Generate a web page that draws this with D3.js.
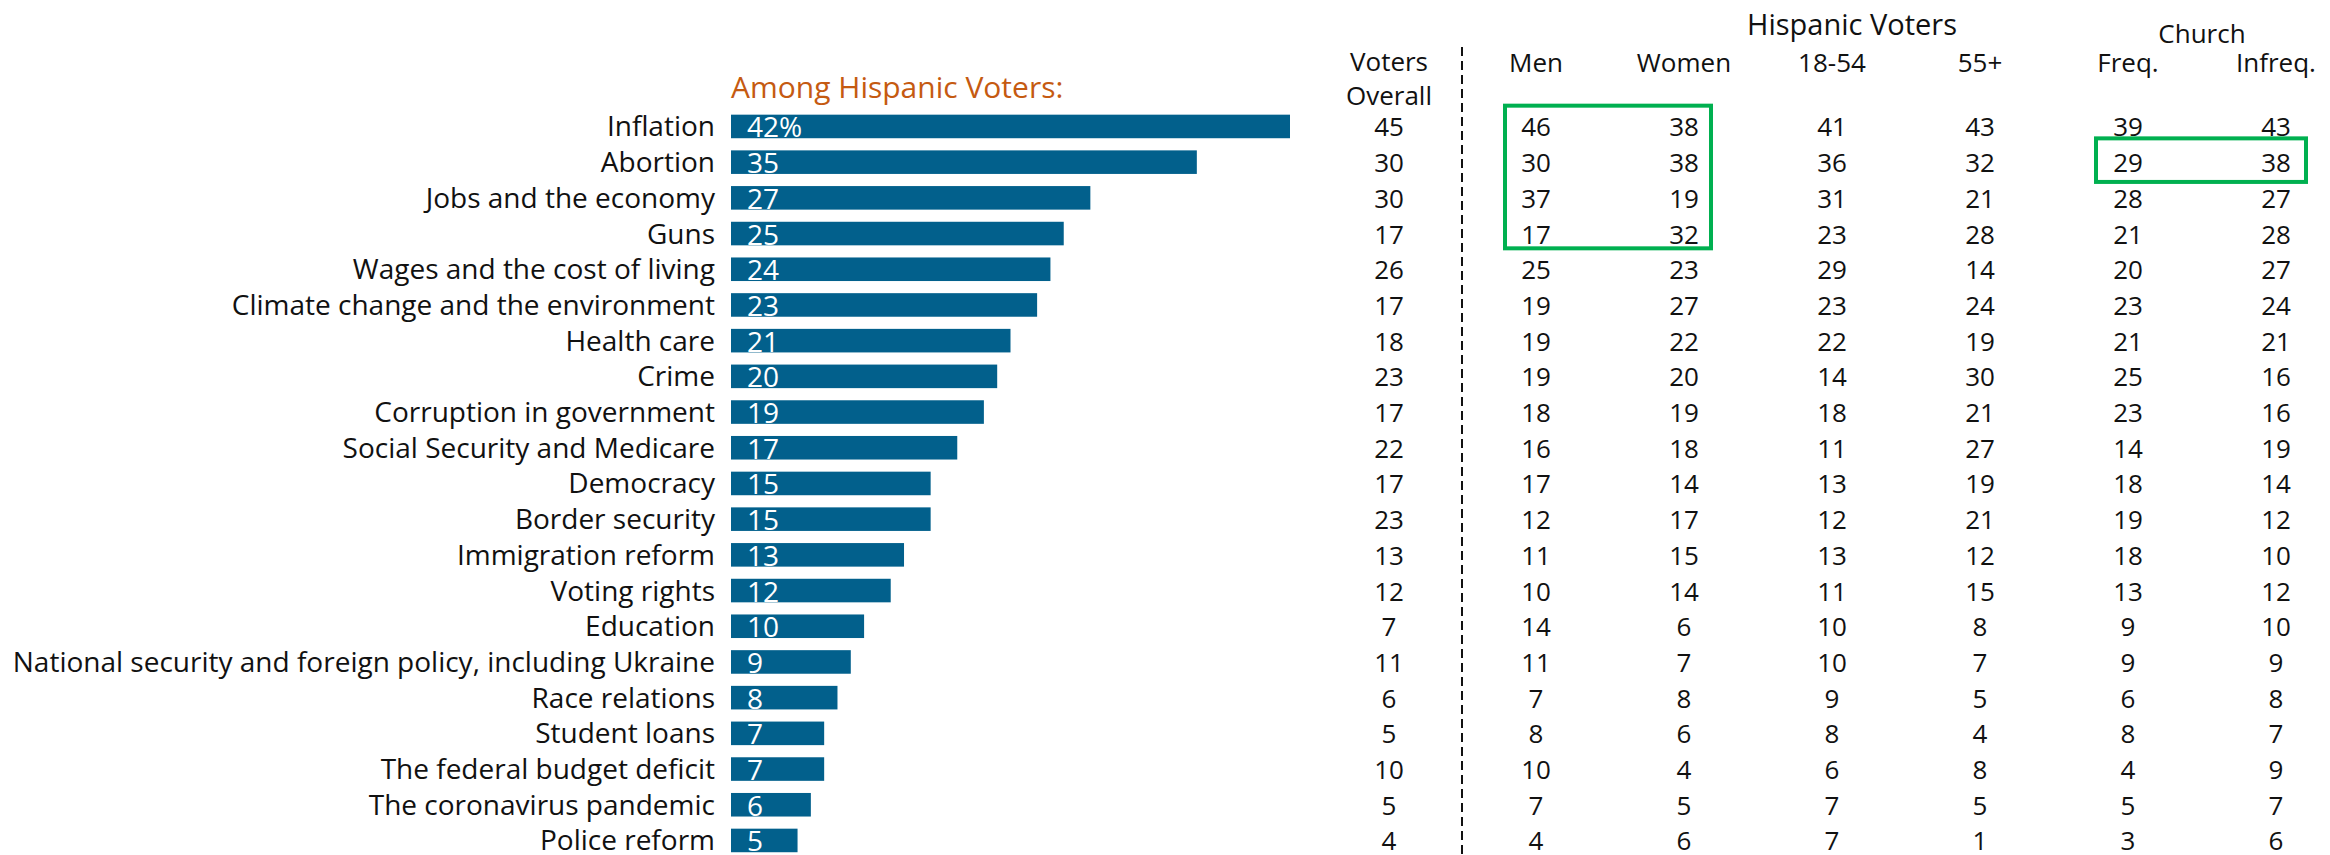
<!DOCTYPE html>
<html>
<head>
<meta charset="utf-8">
<script src="https://cdn.jsdelivr.net/npm/d3@7"></script>
<style>
  body { margin: 0; background: #fff; }
  text { font-family: "Open Sans", "Noto Sans", sans-serif; }
</style>
</head>
<body>
<div id="chart"></div>
<script>
// topics, top to bottom
const topics = [
  "Inflation", "Abortion", "Jobs and the economy", "Guns",
  "Wages and the cost of living", "Climate change and the environment",
  "Health care", "Crime", "Corruption in government",
  "Social Security and Medicare", "Democracy", "Border security",
  "Immigration reform", "Voting rights", "Education",
  "National security and foreign policy, including Ukraine",
  "Race relations", "Student loans", "The federal budget deficit",
  "The coronavirus pandemic", "Police reform"
]
const hispanicAll = [42, 35, 27, 25, 24, 23, 21, 20, 19, 17, 15, 15, 13, 12, 10, 9, 8, 7, 7, 6, 5]
const votersOverall = [45, 30, 30, 17, 26, 17, 18, 23, 17, 22, 17, 23, 13, 12, 7, 11, 6, 5, 10, 5, 4]
const men = [46, 30, 37, 17, 25, 19, 19, 19, 18, 16, 17, 12, 11, 10, 14, 11, 7, 8, 10, 7, 4]
const women = [38, 38, 19, 32, 23, 27, 22, 20, 19, 18, 14, 17, 15, 14, 6, 7, 8, 6, 4, 5, 6]
const age1854 = [41, 36, 31, 23, 29, 23, 22, 14, 18, 11, 13, 12, 13, 11, 10, 10, 9, 8, 6, 7, 7]
const age55 = [43, 32, 21, 28, 14, 24, 19, 30, 21, 27, 19, 21, 12, 15, 8, 7, 5, 4, 8, 5, 1]
const churchFreq = [39, 29, 28, 21, 20, 23, 21, 25, 23, 14, 18, 19, 18, 13, 9, 9, 6, 8, 4, 5, 3]
const churchInfreq = [43, 38, 27, 28, 27, 24, 21, 16, 16, 19, 14, 12, 10, 12, 10, 9, 8, 7, 9, 7, 6]

const colLabels = ["Men", "Women", "18-54", "55+", "Freq.", "Infreq."]
const colSeries = [men, women, age1854, age55, churchFreq, churchInfreq]

const width = 2330
const height = 855

const svg = d3.select("#chart").append("svg")
  .attr("width", width)
  .attr("height", height)

// Scales
const yScale = d3.scaleBand()
  .domain(topics)
  .range([108.6, 858.3])
  .paddingInner(0.34)
  .paddingOuter(0.17)

const xScale = d3.scaleLinear()
  .domain([0, 42])
  .range([731, 1290])

const colScale = d3.scalePoint()
  .domain(colLabels)
  .range([1536, 2276])

const overallX = 1389
const yMid = d => yScale(d) + yScale.bandwidth() / 2

// Title
svg.append("text")
  .attr("x", xScale(0))
  .attr("y", 86)
  .attr("dominant-baseline", "central")
  .attr("fill", "#C55A11")
  .style("font-size", "30px")
  .text("Among Hispanic Voters:")

// Topic labels
svg.append("g").selectAll("text")
  .data(topics)
  .join("text")
  .attr("x", xScale(0) - 16)
  .attr("y", d => yMid(d) - 1)
  .attr("text-anchor", "end")
  .attr("dominant-baseline", "central")
  .attr("fill", "#111")
  .style("font-size", "28px")
  .text(d => d)

// Bars
svg.append("g").selectAll("rect")
  .data(topics)
  .join("rect")
  .attr("x", xScale(0))
  .attr("y", d => yScale(d))
  .attr("width", (d, i) => xScale(hispanicAll[i]) - xScale(0))
  .attr("height", yScale.bandwidth())
  .attr("fill", "#02608C")

// Bar values
svg.append("g").selectAll("text")
  .data(topics)
  .join("text")
  .attr("x", xScale(0) + 16)
  .attr("y", d => yMid(d))
  .attr("dominant-baseline", "central")
  .attr("fill", "#fff")
  .style("font-size", "28px")
  .text((d, i) => i === 0 ? hispanicAll[i] + "%" : hispanicAll[i])

// Table headers
const headerStyle = sel => sel
  .attr("text-anchor", "middle")
  .attr("dominant-baseline", "central")
  .attr("fill", "#111")
  .style("font-size", "26px")

svg.append("text").call(headerStyle)
  .attr("x", overallX).attr("y", 61).text("Voters")
svg.append("text").call(headerStyle)
  .attr("x", overallX).attr("y", 95).text("Overall")

svg.append("g").selectAll("text")
  .data(colLabels)
  .join("text")
  .call(headerStyle)
  .attr("x", d => colScale(d))
  .attr("y", 62)
  .text(d => d)

svg.append("text").call(headerStyle)
  .attr("x", (colScale("Men") + colScale("55+")) / 2 + 94)
  .attr("y", 23)
  .style("font-size", "29px")
  .text("Hispanic Voters")

svg.append("text").call(headerStyle)
  .attr("x", (colScale("Freq.") + colScale("Infreq.")) / 2)
  .attr("y", 33)
  .text("Church")

// Dashed divider
svg.append("line")
  .attr("x1", 1462).attr("x2", 1462)
  .attr("y1", 47).attr("y2", height)
  .attr("stroke", "#111")
  .attr("stroke-width", 2)
  .attr("stroke-dasharray", "9,5")

// Table values
const valueCell = (g, values, x) => g.selectAll("text")
  .data(topics)
  .join("text")
  .call(headerStyle)
  .attr("x", x)
  .attr("y", d => yMid(d))
  .text((d, i) => values[i])

svg.append("g").call(valueCell, votersOverall, overallX)
colLabels.forEach((c, j) => {
  svg.append("g").call(valueCell, colSeries[j], colScale(c))
})

// Highlight boxes
const boxes = [
  { cols: ["Men", "Women"], rows: [0, 3], left: 31, right: 27, top: 9, bottom: 3 },
  { cols: ["Freq.", "Infreq."], rows: [1, 1], left: 32, right: 30, top: 12, bottom: 8 }
]
svg.append("g").selectAll("rect")
  .data(boxes)
  .join("rect")
  .attr("x", d => colScale(d.cols[0]) - d.left)
  .attr("y", d => yScale(topics[d.rows[0]]) - d.top)
  .attr("width", d => colScale(d.cols[1]) + d.right - colScale(d.cols[0]) + d.left)
  .attr("height", d => yScale(topics[d.rows[1]]) + yScale.bandwidth() + d.bottom
    - yScale(topics[d.rows[0]]) + d.top)
  .attr("fill", "none")
  .attr("stroke", "#00B050")
  .attr("stroke-width", 4)
</script>
</body>
</html>
